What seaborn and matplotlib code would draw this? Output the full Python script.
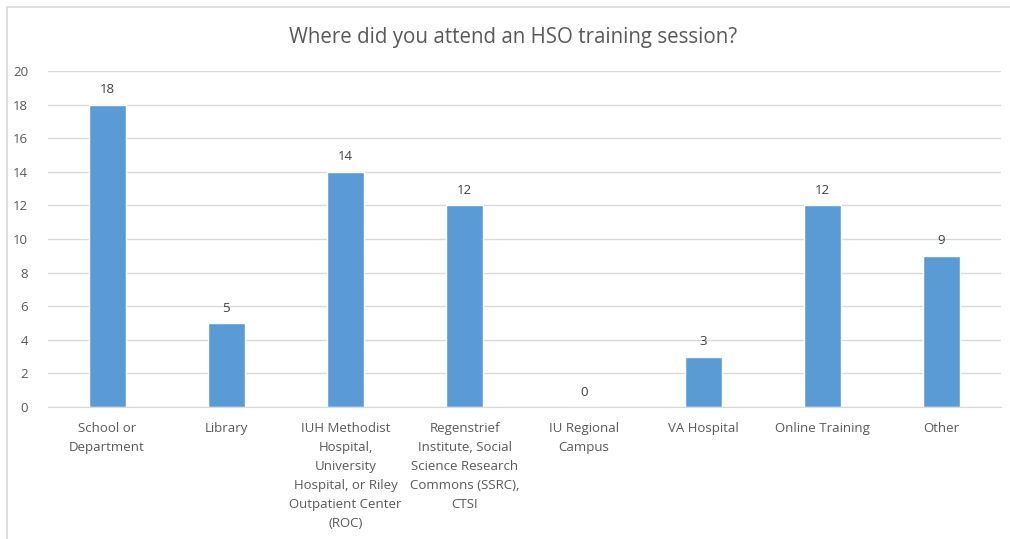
import seaborn as sns
import matplotlib.pyplot as plt
from matplotlib.patches import Rectangle

categories = [
    "School or\nDepartment",
    "Library",
    "IUH Methodist\nHospital,\nUniversity\nHospital, or Riley\nOutpatient Center\n(ROC)",
    "Regenstrief\nInstitute, Social\nScience Research\nCommons (SSRC),\nCTSI",
    "IU Regional\nCampus",
    "VA Hospital",
    "Online Training",
    "Other",
]
counts = [18, 5, 14, 12, 0, 3, 12, 9]
yticks = [0, 2, 4, 6, 8, 10, 12, 14, 16, 18, 20]

sns.set_style("white")
plt.rcParams["font.family"] = ["Open Sans", "DejaVu Sans"]

fig = plt.figure(figsize=(10.1, 5.39), dpi=100)
ax = fig.add_axes([47.5 / 1010, 1 - 407 / 539, (1001 - 47.5) / 1010, (407 - 71) / 539])

sns.barplot(x=categories, y=counts, color="#5B9BD5", width=0.31, saturation=1, ax=ax, zorder=3)
ax.bar_label(ax.containers[0], padding=6, fontsize=9.5, color="#404040")

ax.set_ylim(0, 20)
ax.set_yticks(yticks)
ax.set_xlim(-0.5, len(categories) - 0.5)
ax.grid(axis="y", color="#D9D9D9", linewidth=1, zorder=0)
for s in ["top", "right", "left"]:
    ax.spines[s].set_visible(False)
ax.spines["bottom"].set_color("#D9D9D9")
ax.spines["bottom"].set_zorder(4)
ax.tick_params(axis="both", length=0, labelsize=9.5, labelcolor="#595959")
ax.tick_params(axis="x", pad=11)
ax.tick_params(axis="y", pad=14)
for t in ax.get_xticklabels():
    t.set_linespacing(1.6)
ax.set_xlabel("")
ax.set_ylabel("")

fig.text(513 / 1010, 1 - 38 / 539, "Where did you attend an HSO training session?",
         ha="center", va="center", fontsize=14.8, color="#595959")

fig.patches.append(Rectangle((7 / 1010, -0.1), 1.2, 1 - 7 / 539 + 0.1,
                             transform=fig.transFigure, fill=False,
                             edgecolor="#D9D9D9", linewidth=1.2))

fig.savefig("out.png", dpi=100)
